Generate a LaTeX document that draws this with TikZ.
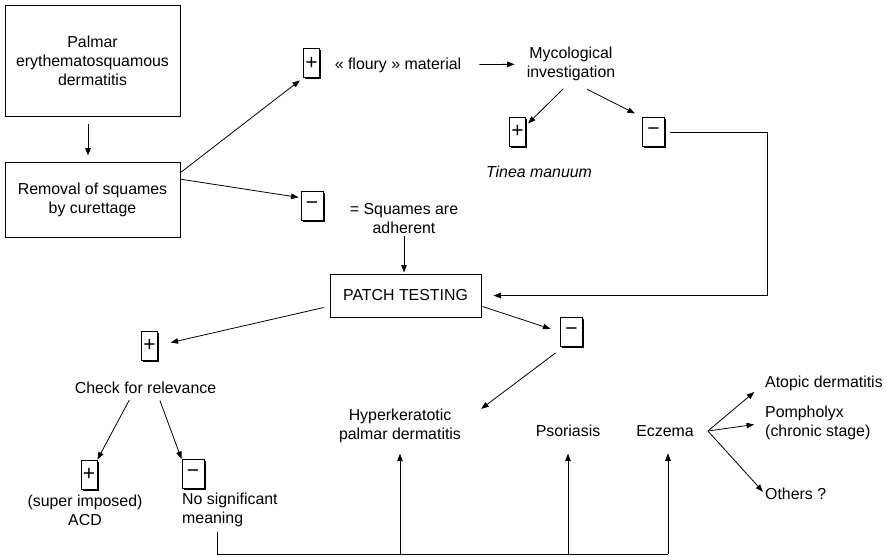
\documentclass[tikz,border=0pt]{standalone}
\usepackage{fontspec}
\setmainfont{Liberation Sans}
\usetikzlibrary{arrows.meta, shadows}

\begin{document}
\begin{tikzpicture}[x=1pt, y=-1pt,
  font=\fontsize{15.9}{19}\selectfont,
  mainbox/.style={draw, line width=1pt, align=center, inner sep=0pt},
  signbox/.style={draw, line width=0.9pt, fill=white, inner sep=0pt, minimum height=29pt,
    font=\fontsize{21}{21}\selectfont,
    drop shadow={shadow xshift=1.6pt, shadow yshift=-1.6pt, fill=black, opacity=1}},
  plusbox/.style={signbox, minimum width=16pt},
  minusbox/.style={signbox, minimum width=22pt},
  lbl/.style={align=center, inner sep=0pt},
  conn/.style={line width=0.8pt},
  arr/.style={conn, -{Triangle[length=7.5pt, width=5.5pt]}}]

\useasboundingbox (0,0) rectangle (887,557);

\node[mainbox, minimum width=175pt, minimum height=111pt] (palmar) at (92.5,60.5) {Palmar\\erythematosquamous\\dermatitis};
\node[mainbox, minimum width=175pt, minimum height=75pt] (removal) at (92.5,199.5) {Removal of squames\\by curettage};
\node[plusbox] (plusA) at (311.5,63) {+};
\node[minusbox] (minusA) at (312,206) {−};
\node[lbl] (floury) at (398,65) {« floury » material};
\node[lbl] (myco) at (571,64) {Mycological\\investigation};
\node[plusbox] (plusB) at (517.5,131.5) {+};
\node[minusbox] (minusB) at (653.5,132) {−};
\node[lbl] (tinea) at (539,172) {\itshape Tinea manuum};
\node[lbl] (adherent) at (404,219) {= Squames are\\adherent};
\node[mainbox, minimum width=151pt, minimum height=43pt] (patch) at (405.5,295.5) {PATCH TESTING};
\node[plusbox] (plusC) at (149.5,345.5) {+};
\node[minusbox] (minusC) at (571.5,332) {−};
\node[lbl] (check) at (145.5,388) {Check for relevance};
\node[plusbox] (plusD) at (89,474.5) {+};
\node[minusbox] (minusD) at (193,474) {−};
\node[lbl] (acd) at (85,510) {(super imposed)\\ACD};
\node[lbl, align=left, anchor=west] (nosig) at (182,510) {No significant\\meaning};
\node[lbl] (hyperk) at (400,426) {Hyperkeratotic\\palmar dermatitis};
\node[lbl] (psoriasis) at (568,431) {Psoriasis};
\node[lbl] (eczema) at (665,431) {Eczema};
\node[lbl, anchor=west] (atopic) at (765,383) {Atopic dermatitis};
\node[lbl, align=left, anchor=west] (pomph) at (765,423) {Pompholyx\\(chronic stage)};
\node[lbl, anchor=west] (others) at (765,494) {Others ?};

\draw[arr, shorten <=7pt, shorten >=6pt] ([xshift=-4.5pt]palmar.south) -- ([xshift=-4.5pt]removal.north);
\draw[arr, shorten >=4pt] (removal.17) -- (plusA.south west);
\draw[arr, shorten >=2pt] (removal.13) -- (minusA.144);
\draw[arr, shorten <=18pt, shorten >=12pt] (floury) -- (myco);
\draw[arr, shorten <=11pt, shorten >=3pt] (myco.south) -- (plusB.35);
\draw[arr, shorten <=18pt, shorten >=8pt] (myco.south) -- (minusB.north west);
\draw[arr, shorten <=5pt, shorten >=12pt] (minusB.east) -- ++(102.5,0) |- (patch.east);
\draw[arr, shorten <=2pt, shorten >=1pt] (adherent.south) -- (adherent.south |- patch.north);

\draw[arr, shorten <=6pt, shorten >=13pt] (patch.188.7) -- (plusC.east);
\draw[arr, shorten <=1pt, shorten >=10pt] (patch.-8.7) -- (minusC.west);
\draw[arr, shorten <=10pt] ([xshift=-8pt]minusC.south) -- ([xshift=20pt]hyperk.north east);
\draw[arr, shorten <=7pt] ([xshift=-13pt]check.south) -- (plusD.north east);
\draw[arr, shorten <=7pt] ([xshift=12pt]check.south) -- (minusD.north west);

\coordinate (busL) at (217,554);
\coordinate (busR) at (668,554);
\draw[conn] (busL) ++(0,-22) -- (busL) -- (busR);
\draw[arr, shorten >=10.5pt] (busL -| hyperk.south) -- (hyperk.south);
\draw[arr, shorten >=16.5pt] (busL -| psoriasis.south) -- (psoriasis.south);
\draw[arr, shorten >=16.5pt] (busR) -- (busR |- eczema.south);

\coordinate (fork) at ([xshift=14pt]eczema.east);
\draw[arr, shorten >=14pt] (fork) -- (atopic.west);
\draw[arr, shorten >=11pt] (fork) -- (pomph.west);
\draw[arr, shorten >=3pt] (fork) -- (others.west);
\end{tikzpicture}
\end{document}
